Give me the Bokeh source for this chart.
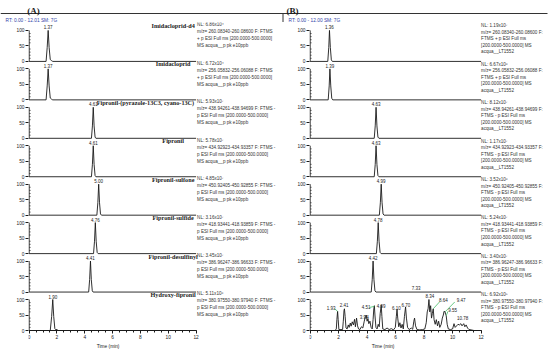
from bokeh.plotting import figure
from bokeh.layouts import row, column
from bokeh.models import Range1d, LinearAxis, FixedTicker, CustomJSTickFormatter
from bokeh.core.properties import value
from bokeh.embed import file_html
from bokeh.resources import INLINE

# ---------------- data ----------------
compounds = ["Imidacloprid-d4", "Imidacloprid", "Fipronil-(pyrazole-13C3, cyano-13C)", "Fipronil",
             "Fipronil-sulfone", "Fipronil-sulfide", "Fipronil-desulfinyl", "Hydroxy-fipronil"]
rt_a = ["1.37", "1.37", "4.61", "4.61", "5.00", "4.76", "4.41", "1.90"]
rt_b = ["1.36", "1.39", "4.63", "4.63", "4.99", "4.78", "4.42"]
nl_a = ["6.86x10\u2074", "6.72x10\u2074", "5.93x10\u2077", "5.78x10\u2077", "4.85x10\u2077", "3.16x10\u2077", "3.45x10\u2077", "5.11x10\u2076"]
nl_b = ["1.19x10\u2077", "6.67x10\u2076", "8.12x10\u2077", "1.17x10\u2077", "3.52x10\u2076", "5.24x10\u2077", "3.40x10\u2077", "6.92x10\u2075"]
mz = ["260.08340-260.08600", "256.05832-256.06088", "438.94261-438.94699", "434.92923-434.93357",
      "450.92405-450.92855", "418.93441-418.93859", "386.96247-386.96633", "380.97550-380.97940"]
polarity = ["+", "+", "-", "-", "-", "-", "-", "-"]
header_a = "RT: 0.00 - 12.01   SM: 7G"
header_b = "RT: 0.00 - 12.00   SM: 7G"
file_a = "MS acqua__p pk e10ppb"
file_b = "acqua__LT1552"
time_ticks = [0, 2, 4, 6, 8, 10, 12]
intensity_ticks = [0, 50, 100]

# chromatograms (time in min, relative intensity %)
a_t = [
    [0, 1.22, 1.30, 1.37, 1.44, 1.52, 1.60, 1.70, 12],
    [0, 1.22, 1.30, 1.37, 1.44, 1.52, 1.62, 1.70, 12],
    [0, 4.48, 4.55, 4.61, 4.67, 4.74, 4.80, 12],
    [0, 4.48, 4.55, 4.61, 4.67, 4.74, 4.80, 12],
    [0, 4.87, 4.94, 5.00, 5.06, 5.13, 5.20, 12],
    [0, 4.63, 4.70, 4.76, 4.82, 4.89, 4.96, 12],
    [0, 4.28, 4.35, 4.41, 4.47, 4.54, 4.60, 12],
    [0, 1.52, 1.62, 1.70, 1.77, 1.85, 1.93, 2.00, 2.08, 12],
]
a_i = [
    [0, 0, 45, 100, 45, 6, 3, 0, 0],
    [0, 0, 45, 100, 45, 6, 2, 0, 0],
    [0, 0, 40, 100, 40, 4, 0, 0],
    [0, 0, 40, 100, 40, 4, 0, 0],
    [0, 0, 40, 100, 40, 4, 0, 0],
    [0, 0, 40, 100, 40, 4, 0, 0],
    [0, 0, 40, 100, 40, 4, 0, 0],
    [0, 0, 45, 100, 45, 6, 2, 4, 0, 0],
]
b_t = [
    [0, 1.24, 1.31, 1.36, 1.42, 1.49, 1.56, 12],
    [0, 1.27, 1.34, 1.39, 1.45, 1.52, 1.59, 12],
    [0, 4.50, 4.57, 4.63, 4.69, 4.76, 4.83, 12],
    [0, 4.50, 4.57, 4.63, 4.69, 4.76, 4.83, 12],
    [0, 4.86, 4.93, 4.99, 5.05, 5.12, 5.19, 12],
    [0, 4.65, 4.72, 4.78, 4.84, 4.91, 4.98, 12],
    [0, 4.29, 4.36, 4.42, 4.48, 4.55, 4.62, 12],
    [0, 1.75, 1.84, 1.88, 1.93, 1.97, 2.02, 2.28, 2.33, 2.38, 2.41, 2.46, 2.52, 2.60, 2.68, 2.74,
     2.82, 2.88, 2.96, 3.04, 3.12, 3.18, 3.26, 3.33, 3.40, 3.50, 3.60, 3.70, 3.80, 3.88, 3.94, 4.00,
     4.06, 4.12, 4.20, 4.28, 4.36, 4.42, 4.47, 4.51, 4.55, 4.62, 4.70, 4.78, 4.85, 4.92, 4.99, 5.04,
     5.10, 5.25, 5.40, 5.55, 5.70, 5.85, 5.98, 6.05, 6.10, 6.15, 6.22, 6.30, 6.38, 6.46, 6.54, 6.62,
     6.70, 6.76, 6.84, 6.95, 7.10, 7.20, 7.28, 7.33, 7.40, 7.50, 7.70, 7.90, 8.05, 8.15, 8.22, 8.28,
     8.34, 8.40, 8.46, 8.52, 8.58, 8.64, 8.70, 8.78, 8.86, 8.94, 9.02, 9.10, 9.20, 9.28, 9.35, 9.40,
     9.47, 9.51, 9.55, 9.62, 9.70, 9.85, 10.0, 10.10, 10.18, 10.28, 10.38, 10.48, 10.58, 10.66, 10.78,
     10.86, 10.95, 11.05, 11.15, 11.3, 11.5, 12],
]
b_i = [
    [0, 0, 45, 100, 45, 5, 0, 0],
    [0, 0, 45, 100, 45, 5, 0, 0],
    [0, 0, 40, 100, 40, 4, 0, 0],
    [0, 0, 40, 100, 40, 4, 0, 0],
    [0, 0, 40, 100, 40, 4, 0, 0],
    [0, 0, 40, 100, 40, 4, 0, 0],
    [0, 0, 40, 100, 40, 4, 0, 0],
    [0, 0, 5, 35, 62, 35, 3, 3, 30, 65, 70, 45, 8, 5, 18, 10,
     24, 14, 28, 18, 36, 12, 40, 15, 5, 3, 12, 8, 30, 45, 50, 30,
     38, 22, 30, 10, 5, 35, 70, 80, 50, 10, 5, 20, 12, 55, 82, 45,
     5, 3, 8, 3, 6, 2, 10, 45, 68, 40, 12, 25, 8, 20, 5, 45,
     76, 40, 10, 3, 8, 4, 30, 40, 15, 3, 2, 3, 5, 25, 60, 70,
     100, 60, 80, 40, 55, 70, 35, 20, 35, 15, 30, 10, 20, 40, 50, 62,
     60, 52, 48, 20, 5, 3, 5, 22, 10, 15, 20, 18, 22, 15, 22,
     12, 18, 8, 3, 2, 0, 0],
]
b8_labels = ["1.93", "2.41", "3.94", "4.51", "4.99", "6.10", "6.70", "7.33", "8.34", "8.64", "9.47", "9.55", "10.78"]
b8_label_t = [1.47, 2.39, 3.80, 3.93, 4.98, 6.05, 6.72, 7.44, 8.40, 9.35, 10.60, 10.00, 10.70]
b8_label_y = [66, 76, 36, 70, 74, 66, 76, 130, 106, 92, 92, 60, 34]
b8_link_t0 = [1.72, 4.15, 8.64, 9.47, 9.55]
b8_link_y0 = [70, 74, 70, 60, 48]
b8_link_t1 = [1.93, 4.51, 9.10, 10.15, 9.68]
b8_link_y1 = [62, 78, 93, 92, 62]

# ---------------- layout (page pixels) ----------------
W, H = 550, 352
HT = 22                    # height of the header strip
WA, WB = 283, 267          # panel widths (A: page 0-283, B: page 283-550)
A0, A12 = 28, 195          # page x of 0 and 12 min (A)
B0, B12 = 309, 480         # page x of 0 and 12 min (B)
sA = (A12 - A0) / 12.0
sB = (B12 - B0) / 12.0
KY = 0.31                  # px per intensity unit
YB = 330                   # page y of the bottom baseline
P = 124                    # vertical pitch (intensity units)
offs = [(7 - i) * P for i in range(8)]
SANS = value("Liberation Sans")
SERIF = value("Liberation Serif")
INK = "#1a1a1a"


def ya(py):
    """page y -> data y"""
    return (YB - py) / KY


# ---------------- header strip ----------------
top = figure(width=W, height=HT, output_backend="svg", toolbar_location=None,
             x_range=Range1d(0, W), y_range=Range1d(HT, 0),
             x_axis_type=None, y_axis_type=None, min_border=0)
top.outline_line_color = None
top.segment(x0=[0], y0=[13], x1=[547], y1=[13], line_color="#333333", line_width=1)
top.segment(x0=[282.5], y0=[13], x1=[282.5], y1=[HT], line_color="#333333", line_width=1)
top.text(x=[33, 292], y=[10.5, 10.5], text=["(A)", "(B)"], text_font=SERIF, text_font_style="bold",
         text_font_size="9px", text_align="center", text_baseline="alphabetic", text_color=INK)
top.text(x=[5, 288], y=[19.5, 19.5], text=[header_a, header_b], text_font=SANS,
         text_font_size="4.8px", text_align="left", text_baseline="middle", text_color="#3344aa")

# ---------------- chromatogram panels ----------------
yticks = sorted([o + v for o in offs for v in intensity_ticks])
yfmt = CustomJSTickFormatter(code="return String(Math.round(tick - Math.floor((tick + 1) / %d) * %d));" % (P, P))


def make_panel(width, px0, s, fig_left):
    border = px0 - fig_left
    shift = 0.6 / s
    p = figure(width=width, height=H - HT, output_backend="svg", toolbar_location=None,
               x_range=Range1d(-shift, (width - border) / s - shift),
               y_range=Range1d(ya(H), ya(HT)),
               x_axis_type=None, y_axis_type=None,
               min_border_left=border, min_border_right=0, min_border_top=0, min_border_bottom=0)
    p.outline_line_color = None
    p.background_fill_color = "white"
    p.border_fill_color = "white"

    yax = LinearAxis(bounds=(0, offs[0] + 100), ticker=FixedTicker(ticks=yticks), formatter=yfmt)
    yax.axis_line_color = None
    yax.major_tick_line_color = INK
    yax.major_tick_out = 3
    yax.major_tick_in = 0
    yax.major_label_standoff = 1
    yax.major_label_text_font = "Liberation Sans"
    yax.major_label_text_font_size = "4.8px"
    yax.major_label_text_color = INK
    p.add_layout(yax, "left")

    xax = LinearAxis(fixed_location=0, bounds=(0, 12),
                     ticker=FixedTicker(ticks=time_ticks, minor_ticks=[k * 0.5 for k in range(25)]))
    xax.axis_line_color = INK
    xax.major_tick_line_color = INK
    xax.minor_tick_line_color = INK
    xax.major_tick_out = 3
    xax.major_tick_in = 0
    xax.minor_tick_out = 2
    xax.minor_tick_in = 0
    xax.major_label_standoff = 1
    xax.major_label_text_font = "Liberation Sans"
    xax.major_label_text_font_size = "4.8px"
    xax.major_label_text_color = INK
    p.add_layout(xax, "below")

    # intensity axis line, one per trace
    p.segment(x0=[0.0] * 8, y0=[float(o) for o in offs], x1=[0.0] * 8,
              y1=[float(o + 100) for o in offs], line_color=INK, line_width=1)
    # minor ticks of the intensity axes (inside)
    mx0, my = [], []
    for o in offs:
        for v in range(10, 100, 10):
            if v != 50:
                mx0.append(0.0); my.append(float(o + v))
    p.segment(x0=mx0, y0=my, x1=[1.6 / s] * len(mx0), y1=my, line_color=INK, line_width=0.6)
    return p


pA = make_panel(WA, A0, sA, 0)
pB = make_panel(WB, B0, sB, WA)

# divider between the panels
pA.segment(x0=[(282.5 - A0) / sA], y0=[ya(HT)], x1=[(282.5 - A0) / sA], y1=[ya(337)],
           line_color="#333333", line_width=1)

# traces
for k in range(8):
    o = offs[k]
    pA.line(a_t[k], [o + v for v in a_i[k]], line_color=INK, line_width=0.9)
    pB.line(b_t[k], [o + v for v in b_i[k]], line_color=INK, line_width=0.9)

# peak labels
pk_a_x = [1.37, 1.37, 4.61, 4.61, 5.00, 4.76, 4.41, 1.70]
pk_b_x = [1.36, 1.39, 4.63, 4.63, 4.99, 4.78, 4.42]
pA.text(x=pk_a_x, y=[o + 103 for o in offs], text=rt_a, text_font=SANS, text_font_size="4.5px",
        text_align="center", text_baseline="bottom", text_color=INK)
pB.text(x=pk_b_x, y=[o + 103 for o in offs[:7]], text=rt_b, text_font=SANS, text_font_size="4.5px",
        text_align="center", text_baseline="bottom", text_color=INK)
pB.text(x=b8_label_t, y=b8_label_y, text=b8_labels, text_font=SANS, text_font_size="4.5px",
        text_align="center", text_baseline="bottom", text_color=INK)
pB.segment(x0=b8_link_t0, y0=b8_link_y0, x1=b8_link_t1, y1=b8_link_y1,
           line_color="#44bb66", line_width=0.8)

# compound names (panel A)
name_x = [10.35, 10.35, 11.86, 10.35, 10.35, 10.35, 10.35, 10.35]
name_align = ["center", "center", "right", "center", "center", "center", "center", "center"]
pA.text(x=name_x, y=[o + 116 for o in offs], text=compounds, text_font=SERIF, text_font_style="bold",
        text_font_size="6.2px", text_align=name_align, text_baseline="middle", text_color=INK)

# info texts
ax_, ay_, at_ = [], [], []
bx_, by_, bt_ = [], [], []
for k in range(8):
    o = offs[k]
    if polarity[k] == "+":
        la = ["NL: " + nl_a[k], "m/z= " + mz[k] + " F: FTMS",
              "+ p ESI Full ms [200.0000-500.0000]", file_a]
    else:
        la = ["NL: " + nl_a[k], "m/z= " + mz[k] + " F: FTMS -",
              "p ESI Full ms [200.0000-500.0000]", file_a]
    for j, s in enumerate(la):
        ax_.append((196 - A0) / sA); ay_.append(o + 118 - j * 22.6); at_.append(s)
    lb = ["NL: " + nl_b[k], "m/z= " + mz[k] + " F:", "FTMS " + polarity[k] + " p ESI Full ms",
          "[200.0000-500.0000]  MS", file_b]
    for j, s in enumerate(lb):
        bx_.append((480 - B0) / sB); by_.append(o + 115 - j * 21); bt_.append(s)
pA.text(x=ax_, y=ay_, text=at_, text_font=SANS, text_font_size="4.6px", text_align="left",
        text_baseline="middle", text_color="#333333")
pB.text(x=bx_, y=by_, text=bt_, text_font=SANS, text_font_size="4.6px", text_align="left",
        text_baseline="middle", text_color="#333333")

# time axis titles
pA.text(x=[(107 - A0) / sA], y=[ya(346)], text=["Time (min)"], text_font=SANS,
        text_font_size="4.8px", text_align="center", text_baseline="middle", text_color=INK)
pB.text(x=[(382 - B0) / sB], y=[ya(346)], text=["Time (min)"], text_font=SANS,
        text_font_size="4.8px", text_align="center", text_baseline="middle", text_color=INK)

layout = column(top, row(pA, pB, spacing=0), spacing=0)
open("out.html", "w").write(file_html(layout, INLINE))
